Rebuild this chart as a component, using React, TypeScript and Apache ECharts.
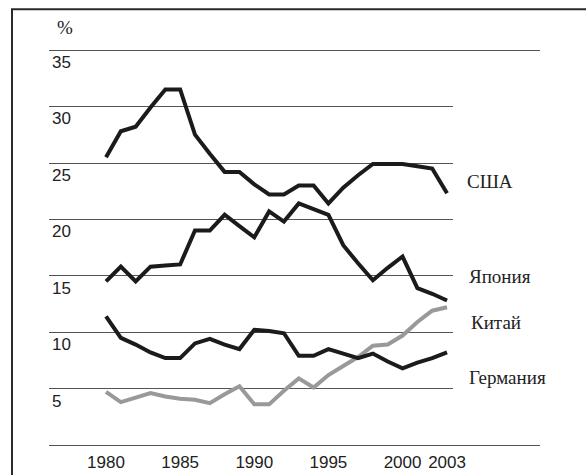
import React, { useEffect, useRef } from "react";
import * as echarts from "echarts";

const years = [1980, 1981, 1982, 1983, 1984, 1985, 1986, 1987, 1988, 1989, 1990, 1991, 1992, 1993, 1994, 1995, 1996, 1997, 1998, 1999, 2000, 2001, 2002, 2003];
const usa = [25.5, 27.8, 28.2, 29.9, 31.5, 31.5, 27.5, 25.8, 24.2, 24.2, 23.1, 22.2, 22.2, 23.0, 23.0, 21.4, 22.8, 23.9, 24.9, 24.9, 24.9, 24.7, 24.5, 22.3];
const japan = [14.5, 15.8, 14.5, 15.8, 15.9, 16.0, 19.0, 19.0, 20.4, 19.4, 18.4, 20.7, 19.8, 21.4, 20.9, 20.4, 17.7, 16.1, 14.6, 15.7, 16.7, 13.9, 13.4, 12.8];
const china = [4.7, 3.8, 4.2, 4.6, 4.3, 4.1, 4.0, 3.7, 4.5, 5.2, 3.6, 3.6, 4.8, 5.9, 5.1, 6.2, 7.0, 7.8, 8.8, 8.9, 9.7, 10.9, 11.9, 12.2];
const germany = [11.4, 9.5, 8.9, 8.2, 7.7, 7.7, 9.0, 9.4, 8.9, 8.5, 10.2, 10.1, 9.9, 7.9, 7.9, 8.5, 8.1, 7.7, 8.1, 7.4, 6.8, 7.3, 7.7, 8.2];
const xTickLabels = [1980, 1985, 1990, 1995, 2000, 2003];
const yTickValues = [5, 10, 15, 20, 25, 30, 35];
const gridValues = [0, 5, 10, 15, 20, 25, 30, 35];
const seriesNames = ["США", "Япония", "Китай", "Германия"];

const X_MIN = 1976.155;
const X_MAX = 2009.27;
const SHORT_END = 2003.4;

const SANS = "'Liberation Sans', Arial, sans-serif";
const SERIF = "'Liberation Serif', 'Times New Roman', serif";

export default function App() {
  const ref = useRef<HTMLDivElement>(null);
  useEffect(() => {
    if (!ref.current) return;
    const chart = echarts.init(ref.current, undefined, { renderer: "svg" });
    const pairs = (vals: number[]) => vals.map((v, i) => [years[i], v]);
    const gridLines = gridValues.map((v) => [
      { coord: [X_MIN, v] },
      { coord: [v === 0 || v === 35 ? X_MAX : SHORT_END, v] },
    ]);
    const mk = (name: string, vals: number[], color: string, offset: number[], extra: any = {}) => ({
      name,
      type: "line",
      data: pairs(vals),
      symbol: "none",
      z: 3,
      lineStyle: { color, width: 4, join: "miter", cap: "butt" },
      endLabel: {
        show: true,
        formatter: name,
        fontFamily: SERIF,
        fontSize: 19,
        color: "#222",
        offset,
        align: "left",
        verticalAlign: "middle",
      },
      ...extra,
    });
    chart.setOption({
      animation: false,
      backgroundColor: "#fff",
      grid: { left: 49, right: 46, top: 50, bottom: 30 },
      xAxis: {
        type: "value",
        min: X_MIN,
        max: X_MAX,
        axisLine: { show: false },
        axisTick: { show: false },
        splitLine: { show: false },
        axisLabel: {
          customValues: xTickLabels,
          formatter: (v: number) => String(v),
          fontFamily: SANS,
          fontSize: 17,
          color: "#222",
          margin: 9,
        },
      },
      yAxis: {
        type: "value",
        min: 0,
        max: 35,
        interval: 5,
        name: "%",
        nameLocation: "end",
        nameGap: 13,
        nameTextStyle: { fontFamily: SERIF, fontSize: 19, color: "#222", align: "left", padding: [0, 0, 0, 8] },
        axisLine: { show: false },
        axisTick: { show: false },
        splitLine: { show: false },
        axisLabel: {
          customValues: yTickValues,
          inside: true,
          margin: 3,
          align: "left",
          verticalAlign: "top",
          padding: [4, 0, 0, 0],
          fontFamily: SANS,
          fontSize: 17,
          color: "#222",
        },
      },
      graphic: [
        {
          type: "rect",
          shape: { x: 12, y: 9.3, width: 620, height: 520 },
          style: { fill: "none", stroke: "#2a2a2a", lineWidth: 2 },
          silent: true,
        },
      ],
      series: [
        mk(seriesNames[0], usa, "#1c1a1a", [12, -12], {
          markLine: {
            silent: true,
            symbol: "none",
            label: { show: false },
            lineStyle: { color: "#555", width: 1, type: "solid" },
            data: gridLines,
            z: 1,
          },
        }),
        mk(seriesNames[1], japan, "#1c1a1a", [14, -24]),
        mk(seriesNames[2], china, "#999999", [16, 15]),
        mk(seriesNames[3], germany, "#1c1a1a", [14, 25]),
      ],
    });
    return () => chart.dispose();
  }, []);
  return <div ref={ref} style={{ position: "fixed", left: 0, top: 0, width: 586, height: 475 }} />;
}
